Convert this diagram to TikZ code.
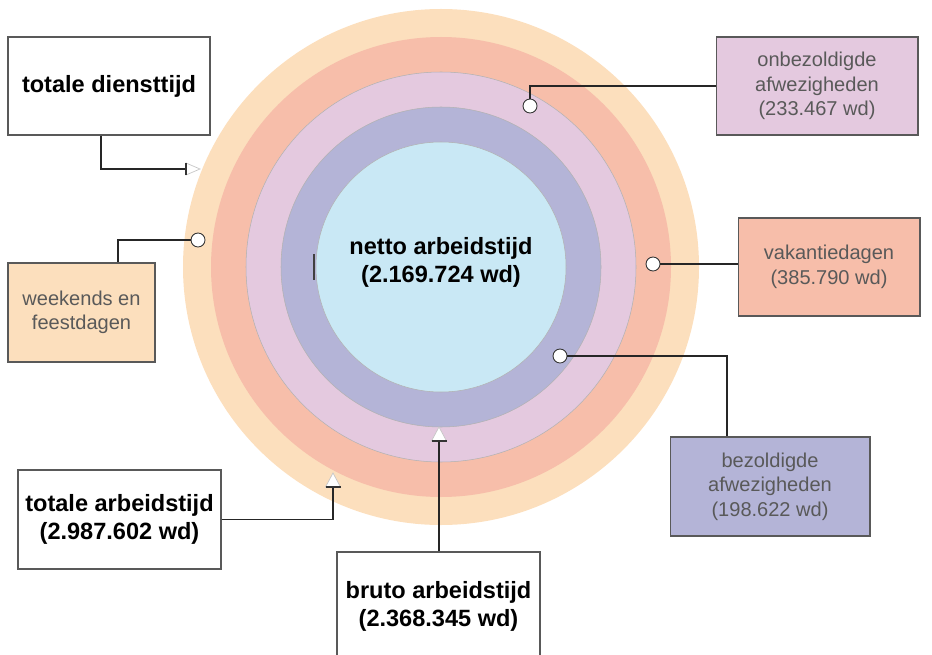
\documentclass[tikz,border=0pt]{standalone}
\usepackage{fontspec}
\setmainfont{Liberation Sans}

\definecolor{ringPeach}{RGB}{252,223,189}
\definecolor{ringSalmon}{RGB}{247,190,170}
\definecolor{ringPink}{RGB}{228,201,223}
\definecolor{ringPurple}{RGB}{180,180,215}
\definecolor{ringCyan}{RGB}{201,232,245}

\tikzset{
  box/.style={draw=black!65, line width=0.6pt, minimum width=4.04cm, minimum height=1.96cm, align=center, inner sep=0pt},
  bold text/.style={font=\fontsize{13.4}{16}\selectfont\bfseries},
  soft text/.style={font=\fontsize{11.4}{13.9}\selectfont, text=black!65},
  link/.style={line width=0.7pt, black!85},
  marker/.style={circle, draw=black!80, fill=white, line width=0.5pt, minimum size=0.28cm, inner sep=0pt},
  head/.style={fill=white, draw=gray!45, line width=0.4pt},
  headbase/.style={line width=0.9pt, black!80},
  ringline/.style={draw=black!30, line width=0.3pt},
}

\begin{document}
\begin{tikzpicture}[x=0.02cm,y=-0.02cm]
    \useasboundingbox (0,0) rectangle (932,655);
    % Ringen
    \fill[ringPeach] (441,267) circle (258);
    \fill[ringSalmon] (441,267) circle (230);
    \filldraw[fill=ringPink,ringline] (441,267) circle (195);
    \filldraw[fill=ringPurple,ringline] (441,267) circle (160);
    \filldraw[fill=ringCyan,ringline] (441,267) circle (125);
    \draw[black!75,line width=0.9pt] (314,254) -- (314,280);
    \node[bold text,align=center] (netto) at (441,262) {netto arbeidstijd\\(2.169.724 wd)};
    % Kaders
    \node[box,bold text] (dienst) at (109,86) {totale diensttijd};
    \node[box,soft text,fill=ringPeach,minimum width=2.94cm,minimum height=1.98cm] (weekend) at (81.5,312.5) {weekends en\\feestdagen};
    \node[box,soft text,fill=ringPink] (onbez) at (817,86) {onbezoldigde\\afwezigheden\\(233.467 wd)};
    \node[box,soft text,fill=ringSalmon,minimum width=3.64cm] (vakantie) at (829,267) {vakantiedagen\\(385.790 wd)};
    \node[box,soft text,fill=ringPurple,minimum width=4cm,minimum height=1.98cm] (bezold) at (770,486.5) {bezoldigde\\afwezigheden\\(198.622 wd)};
    \node[box,bold text,minimum width=4.06cm,minimum height=1.98cm] (arbeid) at (119.5,519.5) {totale arbeidstijd\\(2.987.602 wd)};
    \node[box,bold text,minimum width=4.06cm,minimum height=2.16cm] (bruto) at (438.5,606) {bruto arbeidstijd\\(2.368.345 wd)};
    % Markeringen en pijlpunten
    \node[marker] (mWeek) at (198,240) {};
    \node[marker] (mOnbez) at (530,106) {};
    \node[marker] (mVak) at (653,264) {};
    \node[marker] (mBezold) at (560,356) {};
    \coordinate (hDienst) at (186,169);
    \coordinate (hArbeid) at (333,487);
    \coordinate (hBruto) at (439,441);
    % Verbindingen
    \draw[link] ([xshift=-0.16cm]dienst.south) |- (hDienst);
    \draw[link] (mWeek) -| ([xshift=0.73cm]weekend.north);
    \draw[link] (onbez.west) -| (mOnbez);
    \draw[link] (mVak) -- (mVak -| vakantie.west);
    \draw[link] (mBezold) -| ([xshift=-0.86cm]bezold.north);
    \draw[link] (arbeid.east) -| (hArbeid);
    \draw[link] (hBruto |- bruto.north) -- (hBruto);
    \filldraw[head] (hDienst) ++(0,-6) -- ++(14,6) -- ++(-14,6) -- cycle;
    \draw[headbase] (hDienst) ++(0,-6) -- ++(0,12);
    \filldraw[head] (hArbeid) ++(-7.5,0) -- ++(7.5,-14) -- ++(7.5,14) -- cycle;
    \draw[headbase] (hArbeid) ++(-7.5,0) -- ++(15,0);
    \filldraw[head] (hBruto) ++(-7.5,0) -- ++(7.5,-14) -- ++(7.5,14) -- cycle;
    \draw[headbase] (hBruto) ++(-7.5,0) -- ++(15,0);
\end{tikzpicture}
\end{document}
